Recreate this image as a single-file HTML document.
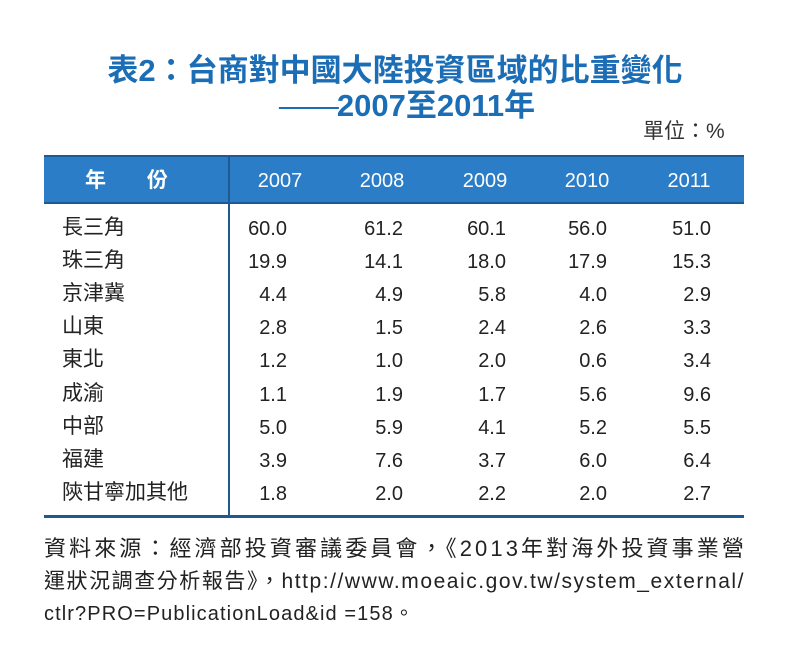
<!DOCTYPE html>
<html><head><meta charset="utf-8"><style>
body{margin:0;width:811px;height:658px;background:#fff;position:relative;overflow:hidden;font-family:"Liberation Sans","Noto Sans CJK TC",sans-serif;}
.t{position:absolute;white-space:nowrap;line-height:24px;}
.title{color:#1b6db5;font-weight:bold;font-size:31px;line-height:36px;left:0;width:790px;text-align:center;}
.hdr{position:absolute;left:44px;top:155px;width:700px;height:47px;background:#2a7dc6;border-top:2px solid #1d5a94;box-sizing:border-box;}
.hy{color:#fff;font-size:20px;top:169px;width:100px;text-align:center;}
.lab{font-size:21px;color:#222;left:62px;}
.n{font-size:20px;color:#222;width:80px;text-align:right;}
.f{font-size:20px;color:#222;left:44px;}
</style></head><body>
<div class="t title" style="top:53px">表2：台商對中國大陸投資區域的比重變化</div>
<div class="t title" style="top:88px;left:12px"><span style="font-weight:normal;letter-spacing:-2px">——</span>2007至2011年</div>
<div class="t" style="left:643px;top:120px;font-size:21px;color:#333">單位：%</div>
<div class="hdr"></div>
<div style="position:absolute;left:228px;top:157px;width:2px;height:359px;background:#1d5a94"></div>
<div style="position:absolute;left:44px;top:202px;width:700px;height:2px;background:#1d5a94"></div>
<div style="position:absolute;left:44px;top:515px;width:700px;height:3px;background:#1d5a94"></div>
<div class="t hy" style="left:85px;color:#fff;font-weight:bold;width:auto;font-size:21px">年&nbsp;&nbsp;&nbsp;&nbsp;&nbsp;&nbsp;&nbsp;份</div>
<div class="t hy" style="left:230px">2007</div>
<div class="t hy" style="left:332px">2008</div>
<div class="t hy" style="left:435px">2009</div>
<div class="t hy" style="left:537px">2010</div>
<div class="t hy" style="left:639px">2011</div>
<div id="rows"></div>
<script>
var d=[["長三角","60.0","61.2","60.1","56.0","51.0"],["珠三角","19.9","14.1","18.0","17.9","15.3"],["京津冀","4.4","4.9","5.8","4.0","2.9"],["山東","2.8","1.5","2.4","2.6","3.3"],["東北","1.2","1.0","2.0","0.6","3.4"],["成渝","1.1","1.9","1.7","5.6","9.6"],["中部","5.0","5.9","4.1","5.2","5.5"],["福建","3.9","7.6","3.7","6.0","6.4"],["陝甘寧加其他","1.8","2.0","2.2","2.0","2.7"]];
var R=[287,403,506,607,711],h="";
d.forEach(function(r,i){var y=216+i*33.1;h+='<div class="t lab" style="top:'+y+'px">'+r[0]+'</div>';
for(var j=1;j<6;j++)h+='<div class="t n" style="top:'+(y+1)+'px;left:'+(R[j-1]-80)+'px">'+r[j]+'</div>';});
document.getElementById("rows").innerHTML=h;
</script>
<div class="t f" style="top:537px;font-size:22px;letter-spacing:3.1px">資料來源：經濟部投資審議委員會，《2013年對海外投資事業營</div>
<div class="t f" style="top:570px;font-size:21px;letter-spacing:1.55px">運狀況調查分析報告》，http://www.moeaic.gov.tw/system_external/</div>
<div class="t f" style="top:602px;letter-spacing:1.1px">ctlr?PRO=PublicationLoad&amp;id =158。</div>
</body></html>
